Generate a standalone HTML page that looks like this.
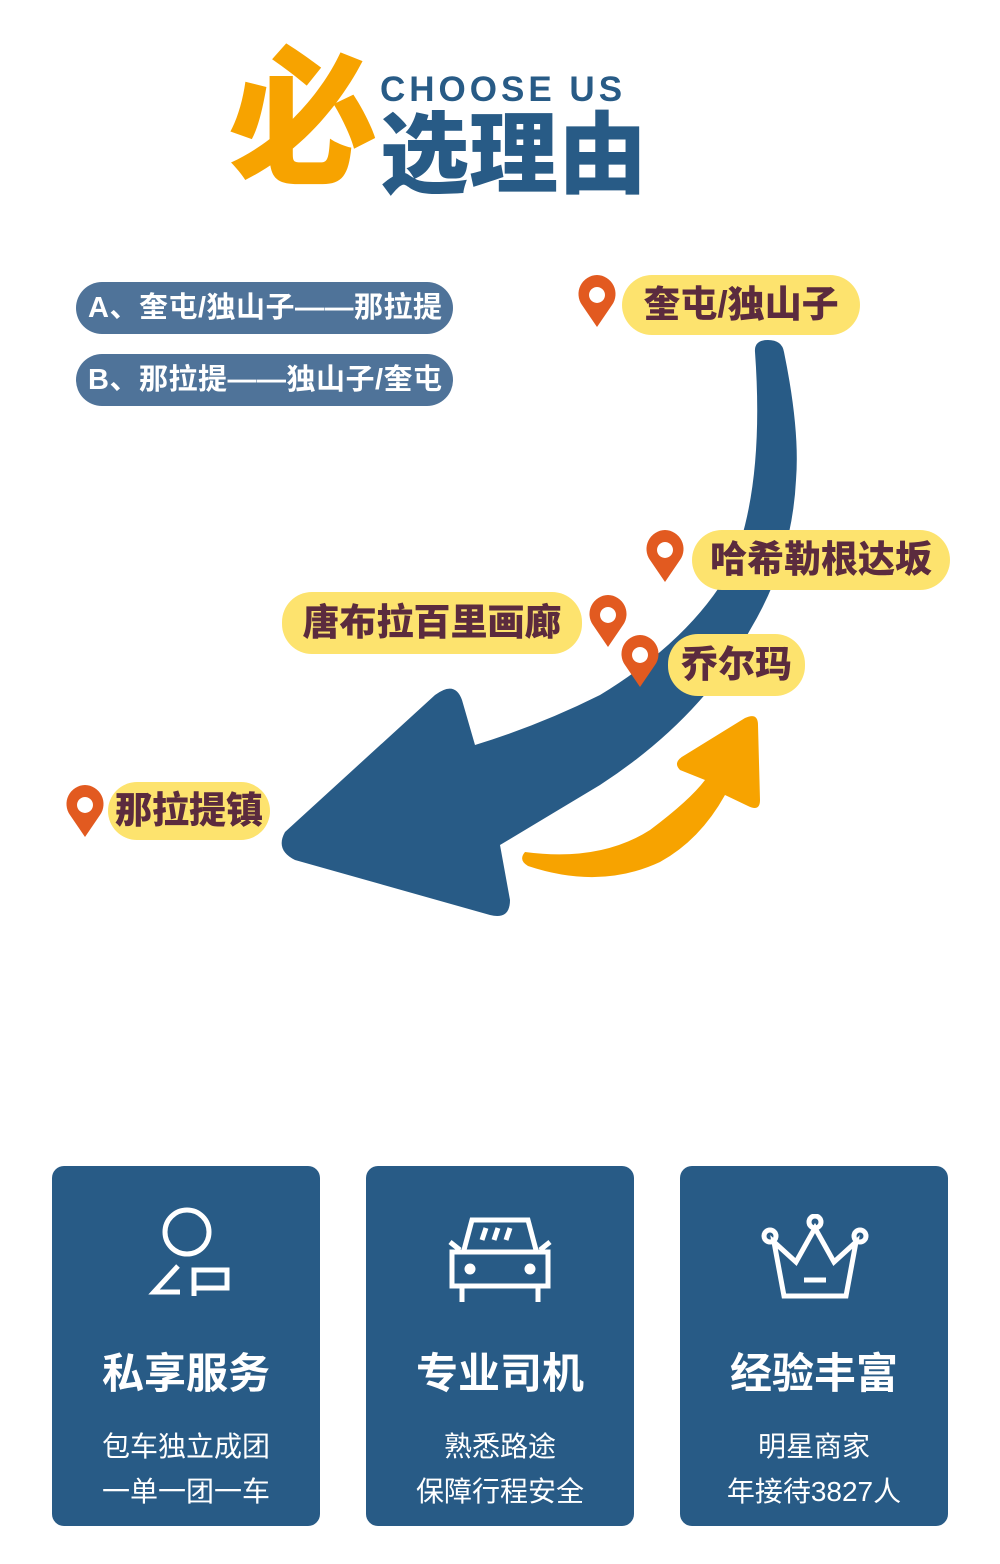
<!DOCTYPE html>
<html><head><meta charset="utf-8"><style>
body{margin:0;width:1000px;height:1564px;background:#fff;position:relative;overflow:hidden;font-family:"Liberation Sans","Noto Sans CJK SC",sans-serif}
.a{position:absolute}
.pill{position:absolute;left:76px;width:377px;height:52px;border-radius:26px;background:#4f7399;color:#fff;font-weight:bold;font-size:29px;line-height:52px;text-indent:12px;white-space:nowrap;letter-spacing:0.5px}
.y{position:absolute;background:#fde36e;border-radius:30px;color:#5b2b3e;font-weight:900;font-size:37px;text-align:center;white-space:nowrap;font-family:"Liberation Sans","Noto Sans CJK SC",sans-serif}
.card{position:absolute;top:1166px;width:268px;height:360px;border-radius:12px;background:#285b86;color:#fff;text-align:center}
.card h3{position:absolute;top:178px;left:0;right:0;margin:0;font-size:42px;font-weight:bold;line-height:60px}
.card p{position:absolute;top:258px;left:0;right:0;margin:0;font-size:28px;line-height:45px}
</style></head><body>
<div class="a" style="left:228px;top:30px;font-size:150px;font-weight:900;color:#f7a300;line-height:180px">必</div>
<div class="a" style="left:380px;top:68px;font-size:35px;font-weight:bold;color:#285b86;letter-spacing:4px;line-height:44px">CHOOSE US</div>
<div class="a" style="left:380px;top:100px;font-size:89px;font-weight:900;color:#285b86;line-height:110px">选理由</div>

<div class="pill" style="top:282px">A、奎屯/独山子——那拉提</div>
<div class="pill" style="top:354px">B、那拉提——独山子/奎屯</div>

<svg class="a" style="left:0;top:0" width="1000" height="1000">
<path d="M755,352 Q754,340 768,340 Q782,340 784,352 Q800,430 796,480 Q792,560 750,630 Q700,720 600,785 Q550,815 500,845 L510,900 Q510,920 490,915 L295,860 Q275,850 285,832 L435,695 Q455,680 462,700 L475,745 Q540,725 600,695 Q690,640 730,570 Q765,490 755,352 Z" fill="#285b86"/>
<path d="M525,852 Q600,862 650,830 Q690,800 705,780 L680,770 Q672,762 685,755 L745,718 Q758,712 758,725 L760,800 Q760,812 748,806 L725,795 Q700,840 660,862 Q600,890 528,866 Q518,860 525,852 Z" fill="#f7a300"/>
<g fill="#e25a20">
<path id="pin" d="M0,-22 A19,19 0 0 1 15,8 L0,30 L-15,8 A19,19 0 0 1 0,-22 Z M0,-10 A8,8 0 1 0 0.01,-10 Z" fill-rule="evenodd" transform="translate(597,297)"/>
<use href="#pin" transform="translate(68,255)"/>
<use href="#pin" transform="translate(11,320)"/>
<use href="#pin" transform="translate(43,360)"/>
<use href="#pin" transform="translate(-512,510)"/>
</g>
</svg>

<div class="y" style="left:622px;top:275px;width:238px;height:60px;line-height:60px">奎屯/独山子</div>
<div class="y" style="left:692px;top:530px;width:258px;height:60px;line-height:60px">哈希勒根达坂</div>
<div class="y" style="left:282px;top:592px;width:300px;height:62px;line-height:62px">唐布拉百里画廊</div>
<div class="y" style="left:668px;top:634px;width:137px;height:62px;line-height:62px">乔尔玛</div>
<div class="y" style="left:108px;top:782px;width:162px;height:58px;line-height:58px">那拉提镇</div>

<div class="card" style="left:52px">
<svg class="a" style="left:90px;top:36px" width="90" height="100" fill="none" stroke="#fff" stroke-width="5">
<circle cx="45" cy="30" r="22"/><path d="M36,64 L12,90 L38,90 M52,94 L52,68 L85,68 L85,86 L54,86"/></svg>
<h3>私享服务</h3><p>包车独立成团<br>一单一团一车</p></div>
<div class="card" style="left:366px">
<svg class="a" style="left:78px;top:46px" width="112" height="92" fill="none" stroke="#fff" stroke-width="5">
<path d="M20,38 L28,8 L84,8 L92,38 M6,30 L16,38 M106,30 L96,38 M8,40 L104,40 L104,74 L8,74 Z M18,76 L18,90 M94,76 L94,90 M38,28 L42,16 M50,28 L54,16 M62,28 L66,16"/>
<circle cx="26" cy="57" r="3" fill="#fff"/><circle cx="86" cy="57" r="3" fill="#fff"/></svg>
<h3>专业司机</h3><p>熟悉路途<br>保障行程安全</p></div>
<div class="card" style="left:680px">
<svg class="a" style="left:80px;top:48px" width="110" height="90" fill="none" stroke="#fff" stroke-width="5">
<circle cx="10" cy="22" r="6"/><circle cx="55" cy="8" r="6"/><circle cx="100" cy="22" r="6"/>
<path d="M14,28 L24,82 L86,82 L96,28 L74,48 L55,14 L36,48 Z M44,66 L66,66"/></svg>
<h3>经验丰富</h3><p>明星商家<br>年接待3827人</p></div>
</body></html>
